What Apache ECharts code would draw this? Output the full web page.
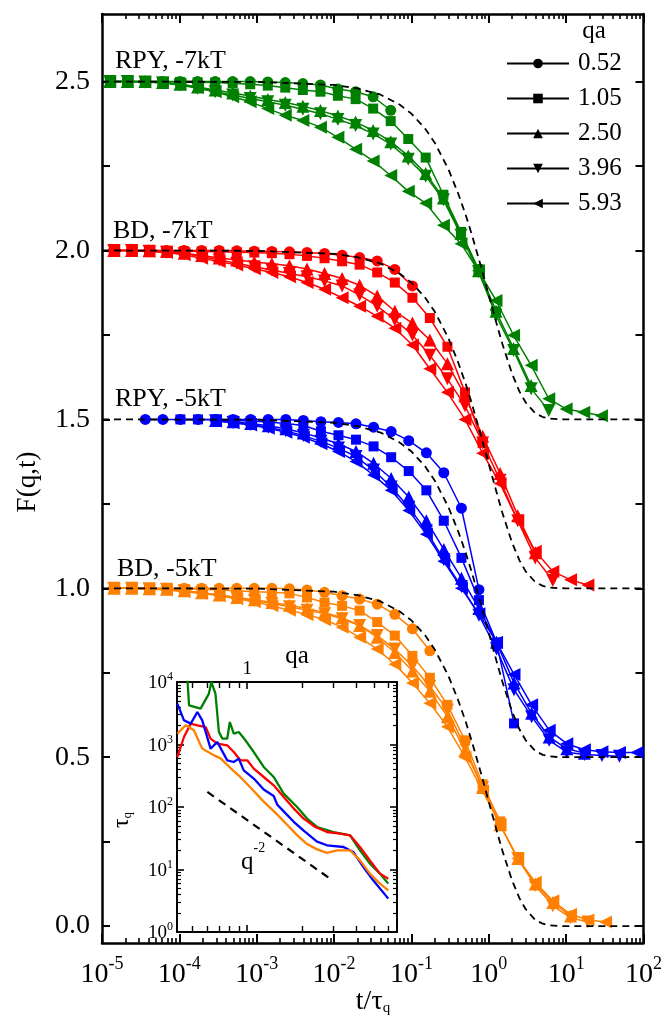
<!DOCTYPE html>
<html>
<head>
<meta charset="utf-8">
<script src="https://cdn.jsdelivr.net/npm/echarts@6/dist/echarts.min.js"></script>
<style>
  html, body { margin: 0; padding: 0; background: #fff; }
  #chart { width: 665px; height: 1023px; }
</style>
</head>
<body>
<div id="chart"></div>
<script>
// ---- Sampling times t / tau_q for each curve family ----
const tRPY7 = [1.26e-5, 2.12e-5, 3.58e-5, 6.04e-5, 1.02e-4, 1.72e-4, 2.90e-4, 4.89e-4, 8.24e-4, 1.39e-3,
  2.34e-3, 3.95e-3, 6.67e-3, 1.12e-2, 1.90e-2, 3.20e-2, 5.40e-2, 9.10e-2, 0.153, 0.259,
  0.437, 0.736, 1.24, 2.09, 3.53, 5.96, 10.0, 16.9, 28.6];
const tBD7 = [1.42e-5, 2.40e-5, 4.05e-5, 6.82e-5, 1.15e-4, 1.94e-4, 3.27e-4, 5.52e-4, 9.31e-4, 1.57e-3,
  2.65e-3, 4.47e-3, 7.53e-3, 1.27e-2, 2.14e-2, 3.61e-2, 6.10e-2, 0.103, 0.173, 0.292,
  0.493, 0.832, 1.40, 2.37, 3.99, 6.73, 11.4, 19.1, 32.3];
const tRPY5 = [3.63e-5, 6.12e-5, 1.03e-4, 1.74e-4, 2.94e-4, 4.95e-4, 8.36e-4, 1.41e-3, 2.38e-3, 4.01e-3,
  6.76e-3, 1.14e-2, 1.92e-2, 3.24e-2, 5.47e-2, 9.23e-2, 0.156, 0.262, 0.443, 0.746,
  1.26, 2.12, 3.58, 6.04, 10.2, 17.2, 29.0, 48.9, 82.4];
const tBD5 = [1.42e-5, 2.40e-5, 4.05e-5, 6.82e-5, 1.15e-4, 1.94e-4, 3.27e-4, 5.52e-4, 9.31e-4, 1.57e-3,
  2.65e-3, 4.47e-3, 7.53e-3, 1.27e-2, 2.14e-2, 3.61e-2, 6.10e-2, 0.103, 0.173, 0.292,
  0.493, 0.832, 1.40, 2.37, 3.99, 6.73, 11.4, 19.1, 32.3];

// ---- qa values (legend) ----
const qaValues = ['0.52', '1.05', '2.50', '3.96', '5.93'];

// ---- F(q,t), shifted curves (null = no sample at that time) ----
// RPY, -7kT (shifted by +1.5)
const fRPY7_052 = [null, 2.5, 2.5, 2.5, 2.5, 2.5, 2.5, 2.5, 2.5, 2.499, 2.497, 2.494, 2.49, 2.478, 2.47, 2.455, 2.415];
const fRPY7_105 = [2.5, 2.5, 2.5, 2.5, 2.499, 2.498, 2.497, 2.495, 2.492, 2.488, 2.482, 2.475, 2.47, 2.458, 2.448, 2.42,
  2.383, 2.33, 2.275, 2.165, 2.055, 1.945, 1.82];
const fRPY7_250 = [2.5, 2.5, 2.5, 2.497, 2.492, 2.484, 2.475, 2.466, 2.457, 2.447, 2.438, 2.427, 2.414, 2.398, 2.38,
  2.355, 2.322, 2.28, 2.228, 2.155, 2.05, 1.94, 1.82, 1.71, 1.60];
const fRPY7_396 = [2.5, 2.5, 2.499, 2.496, 2.49, 2.48, 2.47, 2.46, 2.45, 2.44, 2.43, 2.418, 2.405, 2.388, 2.37, 2.345,
  2.315, 2.27, 2.22, 2.15, 2.045, 1.937, 1.808, 1.704, 1.591, 1.526];
const fRPY7_593 = [2.5, 2.5, 2.499, 2.497, 2.492, 2.483, 2.47, 2.455, 2.44, 2.42, 2.40, 2.385, 2.365, 2.335, 2.30,
  2.265, 2.222, 2.175, 2.14, 2.075, 2.02, 1.94, 1.852, 1.749, 1.66, 1.561, 1.531, 1.521, 1.511];
// BD, -7kT (shifted by +1.0)
const fBD7_052 = [2.0, 2.0, 2.0, 2.0, 2.0, 2.0, 2.0, 1.999, 1.998, 1.997, 1.996, 1.994, 1.991, 1.986, 1.979, 1.969, 1.944, 1.895];
const fBD7_105 = [2.0, 2.0, 2.0, 1.999, 1.998, 1.997, 1.996, 1.995, 1.994, 1.992, 1.989, 1.984, 1.977, 1.968, 1.958,
  1.935, 1.905, 1.86, 1.80, 1.715, 1.58, 1.43];
const fBD7_250 = [2.0, 2.0, 1.999, 1.997, 1.992, 1.985, 1.978, 1.972, 1.966, 1.961, 1.955, 1.945, 1.932, 1.917, 1.897,
  1.865, 1.82, 1.785, 1.735, 1.665, 1.57, 1.45, 1.34, 1.215, 1.105];
const fBD7_396 = [2.0, 2.0, 1.998, 1.995, 1.99, 1.982, 1.972, 1.962, 1.952, 1.942, 1.932, 1.922, 1.91, 1.895, 1.868,
  1.835, 1.795, 1.75, 1.69, 1.62, 1.54, 1.43, 1.32, 1.20, 1.09, 1.023];
const fBD7_593 = [2.0, 2.0, 1.998, 1.994, 1.987, 1.977, 1.967, 1.957, 1.946, 1.935, 1.922, 1.905, 1.885, 1.86, 1.835,
  1.805, 1.77, 1.72, 1.65, 1.58, 1.50, 1.40, 1.31, 1.20, 1.11, 1.05, 1.025, 1.01];
// RPY, -5kT (shifted by +0.5)
const fRPY5_052 = [1.5, 1.5, 1.5, 1.5, 1.5, 1.5, 1.5, 1.5, 1.5, 1.497, 1.493, 1.491, 1.487, 1.477, 1.464, 1.437, 1.401,
  1.342, 1.237, 0.996];
const fRPY5_105 = [null, null, 1.5, 1.5, 1.499, 1.497, 1.495, 1.492, 1.488, 1.482, 1.465, 1.453, 1.44, 1.42, 1.388,
  1.347, 1.29, 1.20, 1.09, 0.965, 0.84, 0.60];
const fRPY5_250 = [null, null, null, null, 1.497, 1.493, 1.488, 1.481, 1.472, 1.46, 1.445, 1.428, 1.405, 1.37, 1.325,
  1.27, 1.20, 1.115, 1.03, 0.94, 0.84, 0.72, 0.63, 0.56, 0.525, 0.512];
const fRPY5_396 = [null, null, null, null, 1.496, 1.491, 1.485, 1.477, 1.466, 1.452, 1.435, 1.415, 1.39, 1.35, 1.30,
  1.24, 1.17, 1.085, 1.005, 0.92, 0.82, 0.70, 0.62, 0.55, 0.515, 0.508, 0.505, 0.503];
const fRPY5_593 = [null, null, null, null, 1.495, 1.49, 1.483, 1.474, 1.462, 1.447, 1.428, 1.405, 1.375, 1.335, 1.29,
  1.23, 1.16, 1.08, 1.00, 0.925, 0.84, 0.745, 0.655, 0.58, 0.54, 0.522, 0.516, 0.514, 0.514];
// BD, -5kT (unshifted)
const fBD5_052 = [1.0, 1.0, 1.0, 1.0, 1.0, 1.0, 1.0, 1.0, 1.0, 1.0, 0.999, 0.995, 0.988, 0.978, 0.968, 0.953, 0.923,
  0.88, 0.815];
const fBD5_105 = [1.0, 1.0, 1.0, 0.999, 0.998, 0.997, 0.995, 0.993, 0.99, 0.988, 0.985, 0.973, 0.958, 0.948, 0.934,
  0.90, 0.86, 0.80, 0.735, 0.655, 0.55, 0.42, 0.31];
const fBD5_250 = [1.0, 1.0, 0.999, 0.997, 0.993, 0.987, 0.98, 0.973, 0.966, 0.958, 0.95, 0.94, 0.928, 0.913, 0.89,
  0.855, 0.81, 0.755, 0.695, 0.62, 0.52, 0.41, 0.30, 0.20, 0.125, 0.07, 0.03];
const fBD5_396 = [1.0, 1.0, 0.999, 0.997, 0.993, 0.987, 0.98, 0.972, 0.964, 0.955, 0.945, 0.935, 0.925, 0.91, 0.89,
  0.86, 0.82, 0.77, 0.71, 0.64, 0.53, 0.41, 0.30, 0.20, 0.12, 0.06, 0.025, 0.012];
const fBD5_593 = [1.0, 1.0, 0.998, 0.995, 0.99, 0.985, 0.978, 0.969, 0.96, 0.948, 0.935, 0.922, 0.907, 0.885, 0.855,
  0.82, 0.775, 0.72, 0.66, 0.59, 0.50, 0.40, 0.30, 0.20, 0.13, 0.075, 0.035, 0.018, 0.012];

// ---- Single-exponential reference (dashed), before shifting ----
const tRef = [1e-5, 1e-3, 0.01, 0.02, 0.04, 0.07, 0.1, 0.15, 0.2, 0.3, 0.4, 0.5, 0.6, 0.8, 1.0, 1.25, 1.5, 2.0, 2.5,
  3.0, 4.0, 5.0, 6.0, 8.0, 10, 100];
const fRef = [1.0, 0.999, 0.990, 0.980, 0.961, 0.932, 0.905, 0.861, 0.819, 0.741, 0.670, 0.607, 0.549, 0.449, 0.368,
  0.287, 0.223, 0.135, 0.082, 0.050, 0.018, 0.007, 0.0025, 0.0003, 0.0, 0.0];

// ---- Inset: relaxation time tau_q vs qa ----
const qInsetRPY7 = [0.462, 0.478, 0.553, 0.615, 0.634, 0.668, 0.698, 0.728, 0.776, 0.802, 0.843, 0.898, 0.978, 1.087,
  1.233, 1.40, 1.589, 1.884, 2.138, 2.427, 2.994, 3.69, 4.188, 4.75, 5.395, 5.998];
const tauInsetRPY7 = [20000, 4236, 3750, 6516, 10000, 6516, 1600, 1242, 1242, 2291, 1493, 1585, 1167, 758,
  437, 302, 164, 100, 65.2, 47.9, 39.8, 35.2, 20.3, 12.4, 8.59, 5.94];
const qInsetBD7 = [0.412, 0.448, 0.488, 0.531, 0.59, 0.628, 0.684, 0.776, 0.843, 0.918, 1.0, 1.087, 1.233, 1.40, 1.589,
  1.806, 2.048, 2.375, 2.754, 3.258, 3.69, 4.188, 4.75, 5.395, 5.998];
const tauInsetBD7 = [631, 1318, 2158, 2028, 1905, 1242, 1033, 971, 758, 558, 558, 411, 302, 222, 145,
  94.2, 65.2, 47.9, 39.8, 37.5, 35.2, 22.9, 14.0, 8.59, 7.14];
const qInsetRPY5 = [0.412, 0.448, 0.488, 0.531, 0.565, 0.628, 0.684, 0.776, 0.843, 0.898, 0.957, 1.087, 1.233, 1.40,
  1.462, 1.589, 1.806, 2.048, 2.427, 2.754, 3.398, 3.846, 4.365, 4.951, 5.998];
const tauInsetRPY5 = [4508, 2438, 2158, 3311, 2438, 859, 1096, 558, 525, 594, 386, 285, 190, 150,
  110, 85, 58, 42, 28, 24.4, 22.9, 19.1, 11.0, 6.71, 3.42];
const qInsetBD5 = [0.412, 0.458, 0.508, 0.565, 0.655, 0.713, 0.809, 0.918, 1.042, 1.233, 1.462, 1.66, 1.884, 2.138,
  2.427, 2.754, 3.126, 3.69, 4.188, 4.75, 5.395, 5.998];
const tauInsetBD5 = [1493, 2028, 1687, 859, 671, 600, 420, 300, 205, 122, 76, 52, 35.5, 25.5,
  21, 18.5, 20.3, 20.3, 14.0, 8.59, 5.94, 4.65];
// q^-2 guide line
const qSlope = [0.603, 2.864];
const tauSlope = [174, 7.14];

// ---- Axis ticks and labels ----
const tMajorTicks = [1e-5, 1e-4, 1e-3, 1e-2, 1e-1, 1, 10, 100];
const tMinorTicks = [];
for (let e = -5; e < 2; e++) for (let m = 2; m <= 9; m++) tMinorTicks.push(+(m * Math.pow(10, e)).toPrecision(3));
const fTicks = [0, 0.25, 0.5, 0.75, 1.0, 1.25, 1.5, 1.75, 2.0, 2.25, 2.5];
const fTickLabels = [0, 0.5, 1.0, 1.5, 2.0, 2.5];
const qaMajorTicks = [1];
const qaMinorTicks = [0.5, 0.6, 0.7, 0.8, 0.9, 2, 3, 4, 5, 6];
const tauMajorTicks = [1, 10, 100, 1000, 10000];
const tauMinorTicks = [];
for (let e = 0; e < 4; e++) for (let m = 2; m <= 9; m++) tauMinorTicks.push(m * Math.pow(10, e));

// ---- Styling ----
const SERIF = "'Liberation Serif', 'DejaVu Serif', serif";
const BLACK = '#000';
const groups = [
  { name: 'RPY, -7kT', color: '#008000', t: tRPY7, base: 1.5, f: [fRPY7_052, fRPY7_105, fRPY7_250, fRPY7_396, fRPY7_593] },
  { name: 'BD, -7kT', color: '#ff0000', t: tBD7, base: 1.0, f: [fBD7_052, fBD7_105, fBD7_250, fBD7_396, fBD7_593] },
  { name: 'RPY, -5kT', color: '#0000ff', t: tRPY5, base: 0.5, f: [fRPY5_052, fRPY5_105, fRPY5_250, fRPY5_396, fRPY5_593] },
  { name: 'BD, -5kT', color: '#ff8000', t: tBD5, base: 0.0, f: [fBD5_052, fBD5_105, fBD5_250, fBD5_396, fBD5_593] }
];
const insetCurves = [
  { color: '#008000', q: qInsetRPY7, tau: tauInsetRPY7 },
  { color: '#ff0000', q: qInsetBD7, tau: tauInsetBD7 },
  { color: '#0000ff', q: qInsetRPY5, tau: tauInsetRPY5 },
  { color: '#ff8000', q: qInsetBD5, tau: tauInsetBD5 }
];
const markerShape = [
  'circle',
  'rect',
  'triangle',
  'path://M0,0L10,0L5,10Z',
  'path://M10,0L10,10L0,5Z'
];
const markerSize = [11, 10, 13, 13, 13];

const powLabel = (fs, ss, lift) => ({
  b: { fontFamily: SERIF, fontSize: fs, color: BLACK, verticalAlign: 'bottom', padding: [lift, 0, 0, 0] },
  s: { fontFamily: SERIF, fontSize: ss, color: BLACK, verticalAlign: 'top' }
});
const expOf = v => Math.round(Math.log10(v));

function frameAxis(extra) {
  return Object.assign({
    splitLine: { show: false },
    minorTick: { show: false },
    minorSplitLine: { show: false },
    axisPointer: { show: false }
  }, extra);
}

const xAxes = [];
const yAxes = [];
// main plot, grid 0
['bottom', 'top'].forEach(pos => {
  xAxes.push(frameAxis({
    type: 'log', logBase: 10, gridIndex: 0, position: pos, min: 1e-5, max: 100,
    axisLine: { show: true, onZero: false, lineStyle: { color: BLACK, width: 2.5 } },
    axisTick: { show: true, inside: true, length: 9, lineStyle: { color: BLACK, width: 2 }, customValues: tMajorTicks },
    axisLabel: pos === 'bottom' ? {
      show: true, customValues: tMajorTicks, margin: 12,
      formatter: v => '{b|10}{s|' + expOf(v) + '}',
      rich: powLabel(28, 18, 6)
    } : { show: false }
  }));
  xAxes.push(frameAxis({
    type: 'log', logBase: 10, gridIndex: 0, position: pos, min: 1e-5, max: 100,
    axisLine: { show: false, onZero: false },
    axisTick: { show: true, inside: true, length: 5, lineStyle: { color: BLACK, width: 1.6 }, customValues: tMinorTicks },
    axisLabel: { show: false }
  }));
});
['left', 'right'].forEach(pos => {
  yAxes.push(frameAxis({
    type: 'value', gridIndex: 0, position: pos, min: -0.05, max: 2.70,
    axisLine: { show: true, onZero: false, lineStyle: { color: BLACK, width: 2.5 } },
    axisTick: { show: true, inside: true, length: 8, lineStyle: { color: BLACK, width: 2 }, customValues: fTicks },
    axisLabel: pos === 'left' ? {
      show: true, customValues: fTickLabels, margin: 12,
      fontFamily: SERIF, fontSize: 28, color: BLACK,
      formatter: v => v.toFixed(1)
    } : { show: false }
  }));
});
// inset, grid 1
['bottom', 'top'].forEach(pos => {
  xAxes.push(frameAxis({
    type: 'log', logBase: 10, gridIndex: 1, position: pos, min: 0.41, max: 6.7,
    axisLine: { show: true, onZero: false, lineStyle: { color: BLACK, width: 2 } },
    axisTick: { show: true, inside: true, length: 7, lineStyle: { color: BLACK, width: 1.6 }, customValues: qaMajorTicks },
    axisLabel: pos === 'top' ? {
      show: true, customValues: qaMajorTicks, margin: 3,
      fontFamily: SERIF, fontSize: 19, color: BLACK
    } : { show: false }
  }));
  xAxes.push(frameAxis({
    type: 'log', logBase: 10, gridIndex: 1, position: pos, min: 0.41, max: 6.7,
    axisLine: { show: false, onZero: false },
    axisTick: { show: true, inside: true, length: 6, lineStyle: { color: BLACK, width: 1.4 }, customValues: qaMinorTicks },
    axisLabel: { show: false }
  }));
});
['left', 'right'].forEach(pos => {
  yAxes.push(frameAxis({
    type: 'log', logBase: 10, gridIndex: 1, position: pos, min: 1, max: 10000,
    axisLine: { show: true, onZero: false, lineStyle: { color: BLACK, width: 2 } },
    axisTick: { show: true, inside: true, length: 7, lineStyle: { color: BLACK, width: 1.6 }, customValues: tauMajorTicks },
    axisLabel: pos === 'left' ? {
      show: true, customValues: tauMajorTicks, margin: 4,
      formatter: v => '{b|10}{s|' + expOf(v) + '}',
      rich: powLabel(19, 12, 3)
    } : { show: false }
  }));
  yAxes.push(frameAxis({
    type: 'log', logBase: 10, gridIndex: 1, position: pos, min: 1, max: 10000,
    axisLine: { show: false, onZero: false },
    axisTick: { show: true, inside: true, length: 4, lineStyle: { color: BLACK, width: 1.2 }, customValues: tauMinorTicks },
    axisLabel: { show: false }
  }));
});

// ---- Series ----
const series = [];
groups.forEach(g => {
  g.f.forEach((vals, i) => {
    const data = [];
    vals.forEach((v, k) => { if (v != null) data.push([g.t[k], v]); });
    series.push({
      type: 'line', name: g.name + ' qa=' + qaValues[i],
      xAxisIndex: 0, yAxisIndex: 0, z: 2,
      data,
      symbol: markerShape[i], symbolSize: markerSize[i],
      itemStyle: { color: g.color },
      lineStyle: { color: g.color, width: 1.5 },
      silent: true, animation: false
    });
  });
  series.push({
    type: 'line', name: g.name + ' exp',
    xAxisIndex: 0, yAxisIndex: 0, z: 3,
    data: tRef.map((t, k) => [t, g.base + fRef[k]]),
    showSymbol: false, symbol: 'none',
    lineStyle: { color: BLACK, width: 1.8, type: [7, 5] },
    silent: true, animation: false
  });
});
// legend entries (black)
qaValues.forEach((qa, i) => {
  series.push({
    type: 'line', name: qa, xAxisIndex: 0, yAxisIndex: 0, data: [],
    symbol: markerShape[i], symbolSize: markerSize[i],
    itemStyle: { color: BLACK }, lineStyle: { color: BLACK, width: 1.5 },
    animation: false
  });
});
insetCurves.forEach(c => {
  series.push({
    type: 'line', xAxisIndex: 4, yAxisIndex: 2, z: 4,
    data: c.q.map((q, k) => [q, c.tau[k]]),
    showSymbol: false, symbol: 'none',
    lineStyle: { color: c.color, width: 2.3 },
    silent: true, animation: false
  });
});
series.push({
  type: 'line', xAxisIndex: 4, yAxisIndex: 2, z: 4,
  data: qSlope.map((q, k) => [q, tauSlope[k]]),
  showSymbol: false, symbol: 'none',
  lineStyle: { color: BLACK, width: 2.2, type: [8, 6] },
  silent: true, animation: false
});

// ---- Text annotations ----
const txt = (x, y, text, size, extra) => Object.assign({
  type: 'text', x, y, silent: true,
  style: Object.assign({ text, font: size + 'px ' + SERIF, fill: BLACK, align: 'left', verticalAlign: 'middle' }, extra || {})
});
const graphic = [
  txt(115, 61, 'RPY, -7kT', 26),
  txt(113, 231, 'BD, -7kT', 26),
  txt(115, 399, 'RPY, -5kT', 26),
  txt(117, 569, 'BD, -5kT', 26),
  txt(594, 31, 'qa', 25, { align: 'center' }),
  txt(297, 656, 'qa', 25, { align: 'center' }),
  // axis titles
  {
    type: 'text', x: 28, y: 482, rotation: Math.PI / 2, silent: true,
    style: { text: 'F(q,t)', font: '27px ' + SERIF, fill: BLACK, align: 'center', verticalAlign: 'middle' }
  },
  {
    type: 'text', x: 373, y: 1002, silent: true,
    style: {
      text: '{a|t/τ}{q|q}', align: 'center', verticalAlign: 'middle',
      rich: {
        a: { font: '28px ' + SERIF, fill: BLACK, verticalAlign: 'top' },
        q: { font: '15px ' + SERIF, fill: BLACK, verticalAlign: 'bottom', padding: [12, 0, 0, 0] }
      }
    }
  },
  {
    type: 'text', x: 122, y: 820, rotation: Math.PI / 2, silent: true,
    style: {
      text: '{a|τ}{q|q}', align: 'center', verticalAlign: 'middle',
      rich: {
        a: { font: '24px ' + SERIF, fill: BLACK, verticalAlign: 'top' },
        q: { font: '13px ' + SERIF, fill: BLACK, verticalAlign: 'bottom', padding: [10, 0, 0, 0] }
      }
    }
  },
  {
    type: 'text', x: 241, y: 858, silent: true,
    style: {
      text: '{a|q}{s|-2}', align: 'left', verticalAlign: 'middle',
      rich: {
        a: { font: '25px ' + SERIF, fill: BLACK, verticalAlign: 'bottom', padding: [8, 0, 0, 0] },
        s: { font: '14px ' + SERIF, fill: BLACK, verticalAlign: 'top' }
      }
    }
  }
];

const chart = echarts.init(document.getElementById('chart'), null, { renderer: 'canvas' });
chart.setOption({
  backgroundColor: '#fff',
  animation: false,
  grid: [
    { left: 102, top: 14, width: 543, height: 929, containLabel: false },
    { left: 177, top: 682, width: 220, height: 250, containLabel: false }
  ],
  xAxis: xAxes,
  yAxis: yAxes,
  legend: {
    data: qaValues,
    orient: 'vertical',
    left: 506, top: 51,
    padding: 0,
    itemWidth: 62, itemHeight: 12, itemGap: 10,
    selectedMode: false,
    textStyle: { fontFamily: SERIF, fontSize: 25, color: BLACK, padding: [0, 0, 0, 4] }
  },
  series,
  graphic
});
</script>
</body>
</html>
